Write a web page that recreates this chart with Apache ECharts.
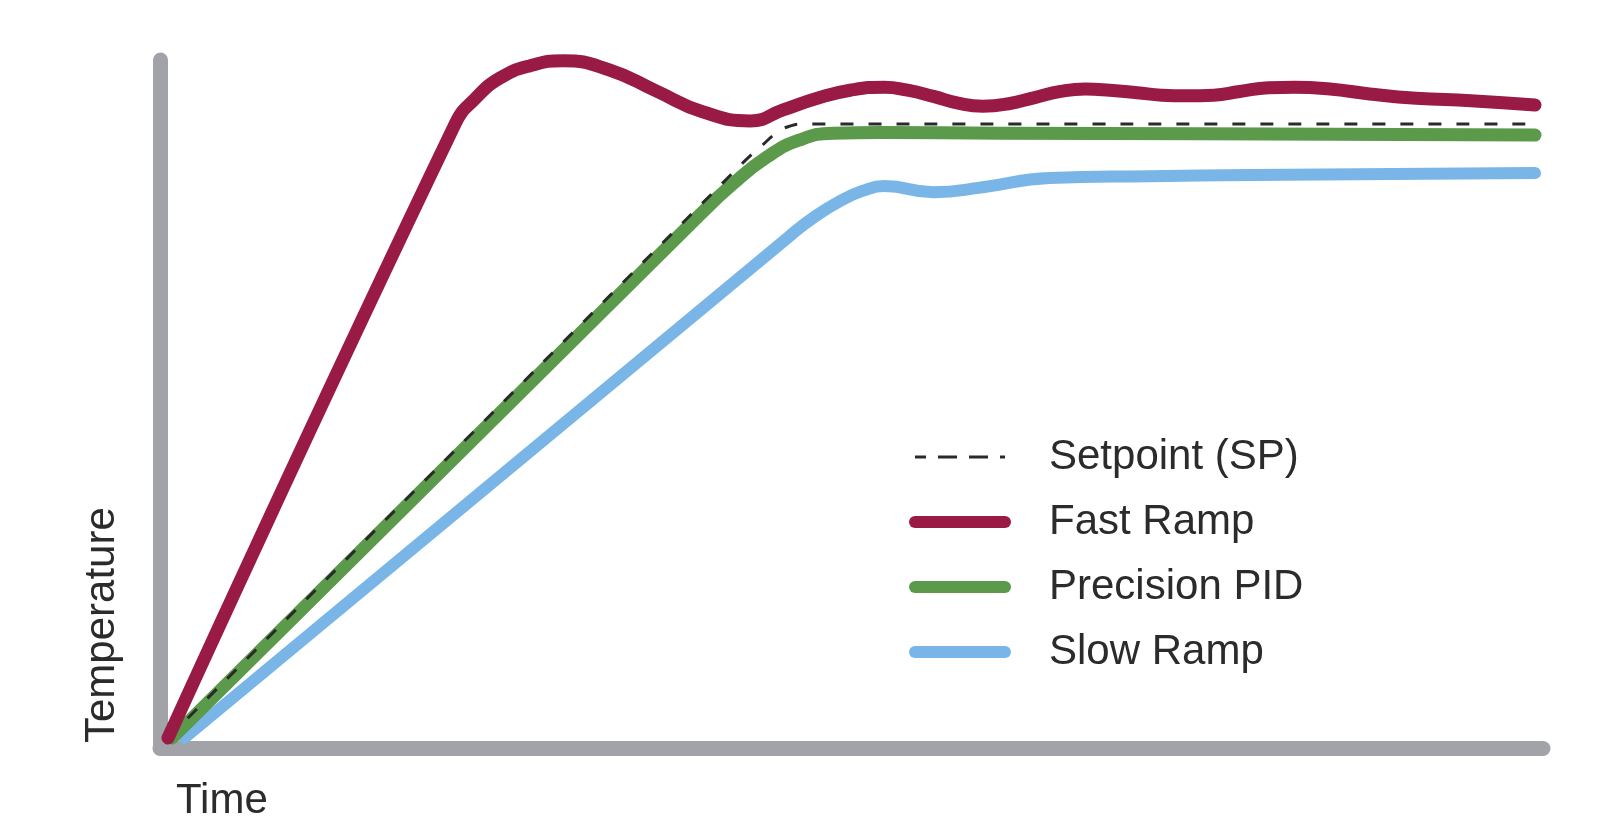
<!DOCTYPE html>
<html>
<head>
<meta charset="utf-8">
<script src="https://cdn.jsdelivr.net/npm/echarts@6/dist/echarts.min.js"></script>
<style>
html,body{margin:0;padding:0;background:#ffffff;}
#chart{width:1621px;height:840px;}
</style>
</head>
<body>
<div id="chart"></div>
<script>
// ---- data (time, temperature) ----
const seriesNames = ['Setpoint (SP)', 'Fast Ramp', 'Precision PID', 'Slow Ramp'];
const setpoint = [[0,0],[42.2,94.0],[43.5,96.6],[44.5,98.5],[45.4,99.6],[46.6,100],[99.6,100]];
const fastRamp = [[0,0],[21.0,100.0],[22.5,104.2],[24.3,107.5],[26.5,109.5],[28.9,110.3],[32.3,108.8],[35.7,105.4],[39.1,102.0],[42.6,100.5],[45.0,102.3],[47.5,104.2],[49.9,105.5],[52.4,106.0],[54.1,105.5],[56.0,104.5],[57.8,103.4],[59.6,102.9],[61.5,103.3],[63.4,104.3],[65.3,105.3],[67.1,105.7],[68.9,105.5],[70.9,105.1],[72.7,104.7],[74.5,104.6],[76.5,104.7],[78.4,105.3],[80.5,105.9],[82.4,106.0],[85.0,105.7],[87.9,104.9],[91.3,104.2],[95.3,103.8],[100,103.1]];
const precisionPID = [[0.3,0],[38.9,85.2],[41.3,90.2],[43.8,94.6],[46.2,97.4],[48.7,98.5],[52.1,98.6],[60.9,98.5],[75.5,98.4],[100,98.2]];
const slowRamp = [[1.2,0],[45.5,81.8],[47.3,84.9],[49.2,87.5],[50.8,89.1],[52.4,89.9],[56.0,88.9],[59.6,89.7],[64.5,91.2],[71.8,91.5],[79.2,91.7],[100,92.0]];
const xTitle = 'Time';
const yTitle = 'Temperature';

const FONT = '"Liberation Sans", Arial, Helvetica, sans-serif';
const TEXT_COLOR = '#2b2b2b';
const C_FAST = '#9a1a46';
const C_PID = '#5b994b';
const C_SLOW = '#79b6e7';
const C_SP = '#2a2a2a';
const C_AXIS = '#a2a3a8';
const NO_SYMBOL = {color: 'rgba(0,0,0,0)', borderColor: 'rgba(0,0,0,0)', borderWidth: 0, opacity: 0};

const chart = echarts.init(document.getElementById('chart'), null, {renderer: 'canvas'});

const option = {
  animation: false,
  backgroundColor: '#ffffff',
  grid: [
    {left: 168, right: 86, top: 738 - 115 * 6.14, bottom: 102},
    {left: 160, right: 78, top: 60, bottom: 92}
  ],
  xAxis: [
    {gridIndex: 0, type: 'value', min: 0, max: 100, show: false},
    {gridIndex: 1, type: 'value', min: 0, max: 1,
      axisLine: {show: true, onZero: false, lineStyle: {color: C_AXIS, width: 15, cap: 'round'}},
      axisTick: {show: false}, axisLabel: {show: false}, splitLine: {show: false}}
  ],
  yAxis: [
    {gridIndex: 0, type: 'value', min: 0, max: 115, show: false},
    {gridIndex: 1, type: 'value', min: 0, max: 1,
      axisLine: {show: true, onZero: false, lineStyle: {color: C_AXIS, width: 15, cap: 'round'}},
      axisTick: {show: false}, axisLabel: {show: false}, splitLine: {show: false}}
  ],
  legend: {
    orient: 'vertical',
    left: 904,
    top: 431,
    itemWidth: 90,
    itemHeight: 24,
    itemGap: 23,
    selectedMode: false,
    itemStyle: NO_SYMBOL,
    textStyle: {fontSize: 42, lineHeight: 42, color: TEXT_COLOR, fontFamily: FONT, padding: [0, 0, 0, 39]},
    data: [
      {name: seriesNames[0], itemStyle: NO_SYMBOL, lineStyle: {width: 3, type: [19, 12], dashOffset: 8, cap: 'butt', color: C_SP}},
      {name: seriesNames[1], itemStyle: NO_SYMBOL, lineStyle: {width: 12, cap: 'round', color: C_FAST}},
      {name: seriesNames[2], itemStyle: NO_SYMBOL, lineStyle: {width: 12, cap: 'round', color: C_PID}},
      {name: seriesNames[3], itemStyle: NO_SYMBOL, lineStyle: {width: 12, cap: 'round', color: C_SLOW}}
    ]
  },
  series: [
    {name: seriesNames[3], type: 'line', xAxisIndex: 0, yAxisIndex: 0, data: slowRamp,
      smooth: 0.5, symbol: 'none', showSymbol: false, clip: false, color: C_SLOW,
      lineStyle: {width: 12, color: C_SLOW, cap: 'round', join: 'round'}, z: 3},
    {name: seriesNames[2], type: 'line', xAxisIndex: 0, yAxisIndex: 0, data: precisionPID,
      smooth: 0.5, symbol: 'none', showSymbol: false, clip: false, color: C_PID,
      lineStyle: {width: 13, color: C_PID, cap: 'round', join: 'round'}, z: 4},
    {name: seriesNames[0], type: 'line', xAxisIndex: 0, yAxisIndex: 0, data: setpoint,
      smooth: 0.5, symbol: 'none', showSymbol: false, clip: false, color: C_SP,
      lineStyle: {width: 3, color: C_SP, type: [13, 15], cap: 'butt'}, z: 5},
    {name: seriesNames[1], type: 'line', xAxisIndex: 0, yAxisIndex: 0, data: fastRamp,
      smooth: 0.5, symbol: 'none', showSymbol: false, clip: false, color: C_FAST,
      lineStyle: {width: 13, color: C_FAST, cap: 'round', join: 'round'}, z: 6}
  ],
  graphic: [
    {type: 'text', x: 176, y: 801, z: 10,
      style: {text: xTitle, font: '42px ' + FONT, fill: TEXT_COLOR, align: 'left', verticalAlign: 'middle'}},
    {type: 'text', x: 102, y: 743, rotation: Math.PI / 2, z: 10,
      style: {text: yTitle, font: '42px ' + FONT, fill: TEXT_COLOR, align: 'left', verticalAlign: 'middle'}}
  ]
};

chart.setOption(option);
</script>
</body>
</html>
